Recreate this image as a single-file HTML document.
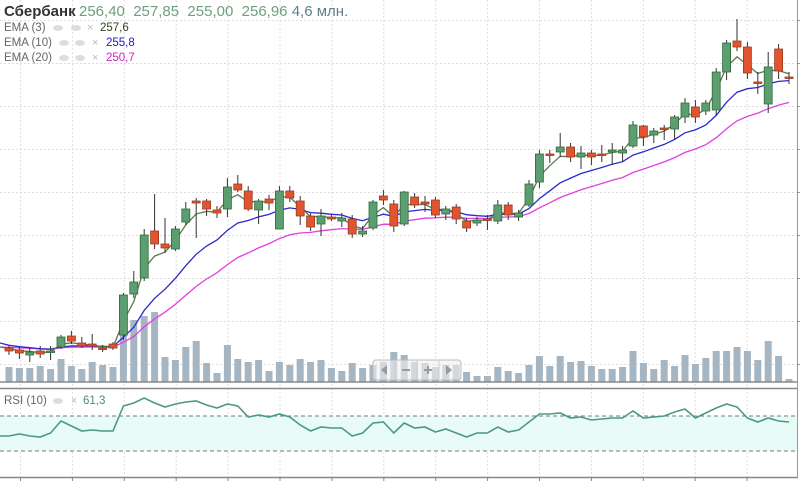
<!DOCTYPE html>
<html><head><meta charset="utf-8"><style>
html,body{margin:0;padding:0;background:#fff;}
svg{display:block;font-family:"Liberation Sans",sans-serif;}
</style></head><body>
<svg id="s" width="800" height="481" viewBox="0 0 800 481" xmlns="http://www.w3.org/2000/svg">
<rect width="800" height="481" fill="#fff"/>
<g id="grid"></g>
<rect x="0" y="416" width="798" height="35" fill="#e8fbf6"/>
<line x1="0" y1="416" x2="798" y2="416" stroke="#777" stroke-dasharray="4,3"/>
<line x1="0" y1="451" x2="798" y2="451" stroke="#777" stroke-dasharray="4,3"/>
<g id="vol"></g>
<g id="lines"></g>
<g id="cand"></g>
<line x1="0" y1="382" x2="798" y2="382" stroke="#888" stroke-width="1.5"/>
<line x1="0" y1="388.5" x2="798" y2="388.5" stroke="#888" stroke-width="1.5"/>
<line x1="0" y1="477.5" x2="798" y2="477.5" stroke="#888" stroke-width="1.5"/>
<line x1="797.5" y1="0" x2="797.5" y2="478" stroke="#999"/>
<g id="ticks"></g>
<g>
<rect x="373" y="360" width="88" height="20" rx="3" fill="rgba(240,240,240,0.6)" stroke="#bbb"/>
<line x1="395" y1="361" x2="395" y2="379" stroke="#ccc"/><line x1="417" y1="361" x2="417" y2="379" stroke="#ccc"/><line x1="439" y1="361" x2="439" y2="379" stroke="#ccc"/>
<polygon points="387,365 387,375 381,370" fill="#999"/>
<rect x="402" y="369" width="8" height="2" fill="#999"/>
<rect x="424" y="369" width="8" height="2" fill="#999"/><rect x="427" y="366" width="2" height="8" fill="#999"/>
<polygon points="446,365 446,375 452,370" fill="#999"/>
</g>
<text x="4" y="16" font-size="15" font-weight="bold" fill="#333">Сбербанк</text>
<text x="79" y="16" font-size="15" fill="#6f9f80">256,40&#160; 257,85&#160; 255,00&#160; 256,96 <tspan fill="#5f7f8f">4,6 млн.</tspan></text>
<g font-size="11.5" fill="#666">
<text x="4" y="31">EMA (3)</text><text x="4" y="46">EMA (10)</text><text x="4" y="61">EMA (20)</text>
<text x="4" y="404">RSI (10)</text>
</g>
<g fill="#ddd"><ellipse cx="58" cy="28" rx="5" ry="3"/><ellipse cx="76" cy="28" rx="5" ry="3"/>
<ellipse cx="64" cy="43" rx="5" ry="3"/><ellipse cx="80" cy="43" rx="5" ry="3"/>
<ellipse cx="64" cy="58" rx="5" ry="3"/><ellipse cx="80" cy="58" rx="5" ry="3"/>
<ellipse cx="58" cy="401" rx="5" ry="3"/></g>
<g font-size="11" fill="#bbb"><text x="87" y="31">×</text><text x="92" y="46">×</text><text x="92" y="61">×</text><text x="71" y="404">×</text></g>
<g font-size="11.5"><text x="100" y="31" fill="#334422">257,6</text><text x="106" y="46" fill="#1a1acc">255,8</text><text x="106" y="61" fill="#cc22cc">250,7</text>
<text x="83" y="404" fill="#4c8a80">61,3</text></g>
</svg>
<script>
var NS="http://www.w3.org/2000/svg";
function el(p,t,a){var e=document.createElementNS(NS,t);for(var k in a)e.setAttribute(k,a[k]);document.getElementById(p).appendChild(e);return e;}
for(var y=20.5;y<382;y+=43){el("grid","line",{x1:0,y1:y,x2:797,y2:y,stroke:"#ddd","stroke-dasharray":"2,2"});el("ticks","line",{x1:797,y1:y,x2:801,y2:y,stroke:"#999"});}
for(var x=20.5;x<797;x+=51.9){el("grid","line",{x1:x,y1:0,x2:x,y2:478,stroke:"#ddd","stroke-dasharray":"2,2"});el("ticks","line",{x1:x,y1:478,x2:x,y2:481,stroke:"#888"});}
el("grid","line",{x1:0,y1:433.5,x2:797,y2:433.5,stroke:"#ddd","stroke-dasharray":"2,2"});
var C=[[348,351,346,355],[350,353,347,359],[355,352,348,362],[351,354,346,358],[352,351,346,360],[347,337,335,349],[336,341,331,344],[343,346,337,348],[344,346,334,350],[348,348,345,352],[344,348,342,350],
[335,295,293,340],[294,282,271,298],[278,235,229,281],[231,244,194,249],[244,248,218,253],[249,229,226,251],[222,209,202,225],[201,203,198,238],[201,209,199,216],[210,213,206,218],[209,187,178,217],[184,190,175,192],[191,209,186,211],[210,201,199,224],
[199,203,195,210],[229,191,186,229],[191,198,186,202],[201,216,196,225],[216,227,213,231],[224,216,209,236],[217,219,215,221],[221,218,213,227],[219,234,215,238],[234,231,226,237],[228,202,200,230],[196,200,190,205],[204,226,200,232],[224,192,191,226],[197,205,193,208],[202,204,196,212],[200,215,197,218],[214,209,206,220],[207,219,204,224],[221,228,218,232],[223,220,217,226],[219,219,215,230],[221,205,200,224],[205,215,202,220],[217,213,210,221],[205,184,180,207],
[182,154,150,188],[154,155,150,163],[152,147,133,157],[147,157,143,162],[157,153,146,169],[153,157,150,165],[154,154,145,162],[152,150,143,165],[153,150,146,162],[146,125,121,148],[126,137,125,146],[135,131,128,143],[128,128,125,140],[129,117,115,140],[117,103,98,123],[107,117,100,123],[111,103,100,115],[110,72,68,115],[72,43,40,80],[41,47,19,51],[47,73,42,79],[82,82,72,94],[104,67,52,113],[49,71,44,79],[77,77,72,84]];
var V=[367,368,368,366,369,359,366,369,362,365,367,330,320,316,312,357,360,347,341,363,373,345,359,362,360,371,362,365,359,362,360,368,371,363,368,365,362,352,355,362,363,367,365,365,372,376,376,367,371,373,365,356,366,356,362,361,366,369,369,367,351,363,369,360,366,355,364,358,351,351,347,351,360,341,356,379];
var R=[436,434,436,437,433,421,426,431,430,431,431,406,403,398,403,407,404,402,401,405,408,404,406,417,415,417,414,417,425,431,427,428,428,436,433,423,422,433,423,428,427,432,429,433,437,433,433,427,432,430,422,414,414,413,418,417,420,419,418,418,411,418,417,416,412,409,418,413,408,404,407,418,422,418,421,422];
function X(i){return 9+10.4*i;}
var e3=346,e10=344,e20=347,p3=[],p10=[],p20=[];
for(var i=0;i<C.length;i++){var c=C[i][1];e3+=(c-e3)*0.5;e10+=(c-e10)*2/11;e20+=(c-e20)*2/21;
p3.push(X(i).toFixed(1)+","+e3.toFixed(1));p10.push(X(i).toFixed(1)+","+e10.toFixed(1));p20.push(X(i).toFixed(1)+","+e20.toFixed(1));}
p10.unshift("0,343");p20.unshift("0,347");p3.unshift("0,347");
for(var i=0;i<V.length;i++){el("vol","rect",{x:X(i)-3.5,y:V[i],width:7,height:382-V[i],fill:"#a5b5c2"});}
el("lines","polyline",{points:p20.join(" "),fill:"none",stroke:"#e040e0","stroke-width":1.3});
el("lines","polyline",{points:p10.join(" "),fill:"none",stroke:"#2a2acc","stroke-width":1.3});
el("lines","polyline",{points:p3.join(" "),fill:"none",stroke:"#5a7a4a","stroke-width":1.3});
var rp=["0,436"];for(var i=0;i<R.length;i++)rp.push(X(i).toFixed(1)+","+R[i]);
el("lines","polyline",{points:rp.join(" "),fill:"none",stroke:"#4c9a85","stroke-width":1.6});
for(var i=0;i<C.length;i++){var d=C[i],x=X(i),up=d[1]<d[0],t=Math.min(d[0],d[1]),h=Math.max(Math.abs(d[0]-d[1]),1.5);
var st=up?"#2d6b3c":"#9a3a20",fi=up?"#5c9e70":"#e05530";
el("cand","line",{x1:x,y1:d[2],x2:x,y2:d[3],stroke:"#333","stroke-width":1});
el("cand","rect",{x:x-4,y:t,width:8,height:h,fill:fi,stroke:st,"stroke-width":0.8});}
</script>
</body></html>
